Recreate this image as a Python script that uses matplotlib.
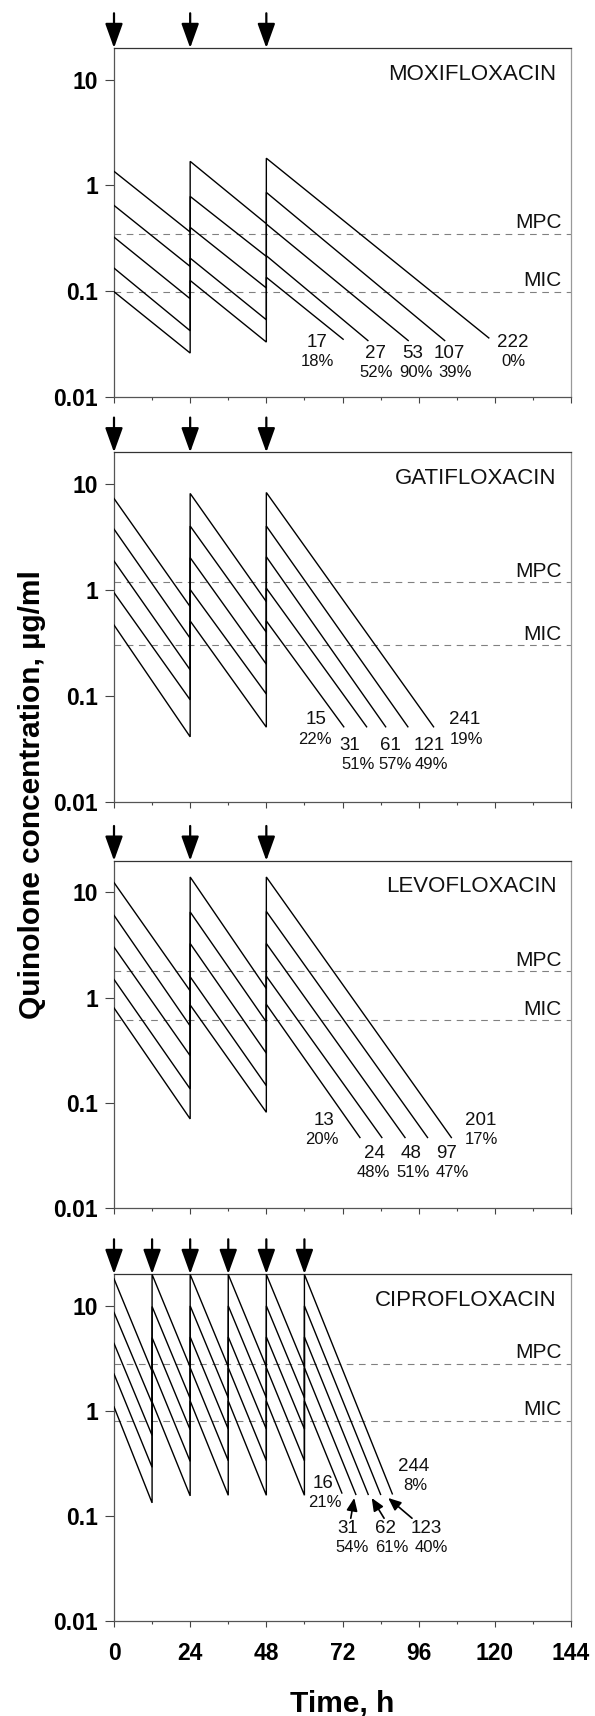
import matplotlib
matplotlib.use("Agg")
import matplotlib.pyplot as plt
from matplotlib.ticker import FixedLocator, FixedFormatter, MultipleLocator, NullLocator

plt.rcParams['font.family'] = ['Liberation Sans', 'DejaVu Sans']

# ---------------- data ----------------
Y_TICKS = [0.01, 0.1, 1, 10]
Y_TICK_LABELS = ['0.01', '0.1', '1', '10']
X_TICKS = [0, 24, 48, 72, 96, 120, 144]

# Moxifloxacin
MOXI_DOSES = ['17', '27', '53', '107', '222']
MOXI_PCT = ['18%', '52%', '90%', '39%', '0%']
MOXI_TIMES = [0, 24, 48]
MOXI_PEAKS = [[0.0986, 0.126, 0.135],
              [0.165, 0.205, 0.216],
              [0.324, 0.401, 0.431],
              [0.647, 0.787, 0.859],
              [1.36, 1.69, 1.81]]
MOXI_TROUGHS = [[0.0259, 0.0329],
                [0.0421, 0.0535],
                [0.0846, 0.107],
                [0.171, 0.213],
                [0.362, 0.434]]
MOXI_END_T = [72.2, 80.0, 92.7, 104.2, 118.1]
MOXI_END_C = [0.035, 0.034, 0.034, 0.034, 0.036]
MOXI_MPC, MOXI_MIC = 0.35, 0.098

# Gatifloxacin
GATI_DOSES = ['15', '31', '61', '121', '241']
GATI_PCT = ['22%', '51%', '57%', '49%', '19%']
GATI_TIMES = [0, 24, 48]
GATI_PEAKS = [[0.467, 0.51, 0.51],
              [0.944, 1.01, 1.04],
              [1.88, 2.02, 2.06],
              [3.76, 4.02, 4.02],
              [7.32, 8.17, 8.34]]
GATI_TROUGHS = [[0.041, 0.0506],
                [0.0917, 0.104],
                [0.176, 0.199],
                [0.350, 0.399],
                [0.696, 0.776]]
GATI_END_T = [72.4, 79.6, 85.6, 92.6, 100.7]
GATI_END_C = [0.051, 0.051, 0.051, 0.051, 0.051]
GATI_MPC, GATI_MIC = 1.18, 0.30

# Levofloxacin
LEVO_DOSES = ['13', '24', '48', '97', '201']
LEVO_PCT = ['20%', '48%', '51%', '47%', '17%']
LEVO_TIMES = [0, 24, 48]
LEVO_PEAKS = [[0.80, 0.853, 0.865],
              [1.49, 1.58, 1.60],
              [3.02, 3.27, 3.27],
              [6.06, 6.52, 6.60],
              [12.4, 14.0, 14.0]]
LEVO_TROUGHS = [[0.0706, 0.0816],
                [0.136, 0.146],
                [0.281, 0.297],
                [0.539, 0.589],
                [1.16, 1.22]]
LEVO_END_T = [77.5, 84.4, 91.7, 98.8, 106.3]
LEVO_END_C = [0.047, 0.047, 0.047, 0.047, 0.047]
LEVO_MPC, LEVO_MIC = 1.79, 0.61

# Ciprofloxacin
CIPRO_DOSES = ['16', '31', '62', '123', '244']
CIPRO_PCT = ['21%', '54%', '61%', '40%', '8%']
CIPRO_TIMES = [0, 12, 24, 36, 48, 60]
CIPRO_PEAKS = [[1.09, 1.22, 1.24, 1.24, 1.24, 1.24],
               [2.24, 2.53, 2.57, 2.57, 2.57, 2.57],
               [4.38, 4.96, 5.04, 5.04, 5.04, 5.04],
               [8.63, 9.81, 9.95, 9.95, 9.95, 9.95],
               [18.0, 19.8, 19.8, 19.8, 19.8, 19.8]]
CIPRO_TROUGHS = [[0.133, 0.155, 0.157, 0.157, 0.157],
                 [0.290, 0.330, 0.335, 0.335, 0.335],
                 [0.583, 0.660, 0.670, 0.670, 0.670],
                 [1.18, 1.31, 1.33, 1.33, 1.33],
                 [2.37, 2.60, 2.62, 2.62, 2.62]]
CIPRO_END_T = [71.8, 76.2, 80.1, 84.0, 87.7]
CIPRO_END_C = [0.165, 0.160, 0.160, 0.160, 0.162]
CIPRO_MPC, CIPRO_MIC = 2.79, 0.80

# ---------------- label placement (hours, concentration) ----------------
MOXI_NUM_POS = [(64.0, 0.0327), (82.5, 0.0259), (94.0, 0.0259), (105.8, 0.0259), (125.8, 0.0327)]
MOXI_PCT_POS = [(64.0, 0.0216), (82.5, 0.0170), (95.2, 0.0170), (107.5, 0.0170), (125.8, 0.0216)]
GATI_NUM_POS = [(63.7, 0.0594), (74.2, 0.0343), (87.1, 0.0343), (99.3, 0.0343), (110.4, 0.0594)]
GATI_PCT_POS = [(63.3, 0.0390), (76.8, 0.0227), (88.7, 0.0227), (100.1, 0.0227), (111.0, 0.0390)]
LEVO_NUM_POS = [(66.2, 0.068), (82.0, 0.0334), (93.6, 0.0334), (104.7, 0.0334), (115.7, 0.068)]
LEVO_PCT_POS = [(65.6, 0.0447), (81.7, 0.0221), (94.2, 0.0221), (106.7, 0.0221), (115.7, 0.0447)]
CIPRO_NUM_POS = [(65.9, 0.204), (73.6, 0.0758), (85.6, 0.0758), (98.4, 0.0758), (94.3, 0.294)]
CIPRO_PCT_POS = [(66.3, 0.134), (75.0, 0.0505), (87.6, 0.0505), (100.0, 0.0505), (94.8, 0.194)]
# pointer arrows for the crowded ciprofloxacin labels: (tail, head)
CIPRO_POINTERS = [((74.6, 0.095), (75.7, 0.148)),
                  ((85.1, 0.095), (81.2, 0.148)),
                  ((93.9, 0.095), (86.4, 0.148))]

panels = [
    dict(name='MOXIFLOXACIN', doses=MOXI_DOSES, pct=MOXI_PCT, times=MOXI_TIMES,
         peaks=MOXI_PEAKS, troughs=MOXI_TROUGHS, end_t=MOXI_END_T, end_c=MOXI_END_C,
         mpc=MOXI_MPC, mic=MOXI_MIC, num_pos=MOXI_NUM_POS, pct_pos=MOXI_PCT_POS,
         rect=(48.0, 396.7)),
    dict(name='GATIFLOXACIN', doses=GATI_DOSES, pct=GATI_PCT, times=GATI_TIMES,
         peaks=GATI_PEAKS, troughs=GATI_TROUGHS, end_t=GATI_END_T, end_c=GATI_END_C,
         mpc=GATI_MPC, mic=GATI_MIC, num_pos=GATI_NUM_POS, pct_pos=GATI_PCT_POS,
         rect=(452.3, 801.7)),
    dict(name='LEVOFLOXACIN', doses=LEVO_DOSES, pct=LEVO_PCT, times=LEVO_TIMES,
         peaks=LEVO_PEAKS, troughs=LEVO_TROUGHS, end_t=LEVO_END_T, end_c=LEVO_END_C,
         mpc=LEVO_MPC, mic=LEVO_MIC, num_pos=LEVO_NUM_POS, pct_pos=LEVO_PCT_POS,
         rect=(860.7, 1208.3)),
    dict(name='CIPROFLOXACIN', doses=CIPRO_DOSES, pct=CIPRO_PCT, times=CIPRO_TIMES,
         peaks=CIPRO_PEAKS, troughs=CIPRO_TROUGHS, end_t=CIPRO_END_T, end_c=CIPRO_END_C,
         mpc=CIPRO_MPC, mic=CIPRO_MIC, num_pos=CIPRO_NUM_POS, pct_pos=CIPRO_PCT_POS,
         rect=(1274.0, 1621.0)),
]

W, H = 595, 1716
fig = plt.figure(figsize=(W / 100, H / 100), dpi=100)
AX_LEFT, AX_RIGHT = 114.0, 571.0


def sawtooth(times, peaks, troughs, t_end, c_end):
    xs, ys = [times[0]], [peaks[0]]
    for k in range(1, len(times)):
        xs += [times[k], times[k]]
        ys += [troughs[k - 1], peaks[k]]
    xs.append(t_end)
    ys.append(c_end)
    return xs, ys


for i, p in enumerate(panels):
    top, bot = p['rect']
    ax = fig.add_axes([AX_LEFT / W, 1 - bot / H, (AX_RIGHT - AX_LEFT) / W, (bot - top) / H])
    ax.set_yscale('log')
    ax.set_xlim(0, 144)
    ax.set_ylim(0.01, 20)

    # reference levels
    for lvl, txt in ((p['mpc'], 'MPC'), (p['mic'], 'MIC')):
        ax.axhline(lvl, color='#808080', lw=0.8, dashes=(6, 5), zorder=1)
        ax.annotate(txt, xy=(141, lvl), xytext=(0, 4), textcoords='offset points',
                    ha='right', va='baseline', fontsize=15, color='#111')

    # concentration profiles
    for k in range(len(p['doses'])):
        xs, ys = sawtooth(p['times'], p['peaks'][k], p['troughs'][k], p['end_t'][k], p['end_c'][k])
        ax.plot(xs, ys, color='black', lw=1.0, solid_joinstyle='miter', zorder=3)

    # dose and percentage labels
    for txt, (x, y) in zip(p['doses'], p['num_pos']):
        ax.text(x, y, txt, ha='center', va='center', fontsize=13.5, color='#111')
    for txt, (x, y) in zip(p['pct'], p['pct_pos']):
        ax.text(x, y, txt, ha='center', va='center', fontsize=12, color='#111')

    if p['name'] == 'CIPROFLOXACIN':
        for tail, head in CIPRO_POINTERS:
            ax.annotate('', xy=head, xytext=tail,
                        arrowprops=dict(arrowstyle='-|>,head_length=0.7,head_width=0.3',
                                        mutation_scale=11, lw=1.2, color='black',
                                        shrinkA=0, shrinkB=0))

    # drug name
    ax.text(139.5, 10, p['name'], ha='right', va='baseline', fontsize=16, color='#111')

    # dosing arrows above the frame
    for t in p['times']:
        ax.annotate('', xy=(t, 1.0), xycoords=ax.get_xaxis_transform(),
                    xytext=(0, 25), textcoords='offset points', annotation_clip=False,
                    arrowprops=dict(arrowstyle='-|>,head_length=0.75,head_width=0.27',
                                    mutation_scale=20, lw=1.6, color='black',
                                    shrinkA=0, shrinkB=0, clip_on=False))

    # axes styling
    ax.yaxis.set_major_locator(FixedLocator(Y_TICKS))
    ax.yaxis.set_major_formatter(FixedFormatter(Y_TICK_LABELS))
    ax.yaxis.set_minor_locator(NullLocator())
    ax.xaxis.set_major_locator(FixedLocator(X_TICKS))
    ax.xaxis.set_minor_locator(MultipleLocator(12))
    ax.tick_params(axis='y', which='major', direction='out', length=6.5, width=0.8,
                   color='#444', pad=5, labelsize=16.5)
    ax.tick_params(axis='x', which='major', direction='out', length=4.5, width=0.8,
                   color='#444', pad=10.5, labelsize=16.5)
    ax.tick_params(axis='x', which='minor', direction='out', length=2.5, width=0.8, color='#444')
    for lbl in ax.get_yticklabels() + ax.get_xticklabels():
        lbl.set_fontweight('bold')
    if i < len(panels) - 1:
        ax.set_xticklabels([])
    ax.spines['left'].set_color('#555')
    ax.spines['bottom'].set_color('#555')
    ax.spines['top'].set_color('#333')
    ax.spines['right'].set_color('#999')
    for s in ax.spines.values():
        s.set_linewidth(0.9)

fig.text(32 / W, 1 - 795 / H, 'Quinolone concentration, µg/ml', rotation=90,
         ha='center', va='center', fontsize=21.5, fontweight='bold')
fig.text(342.5 / W, 1 - 1711 / H, 'Time, h', ha='center', va='baseline',
         fontsize=21.5, fontweight='bold')

fig.savefig('out.png', dpi=100)
